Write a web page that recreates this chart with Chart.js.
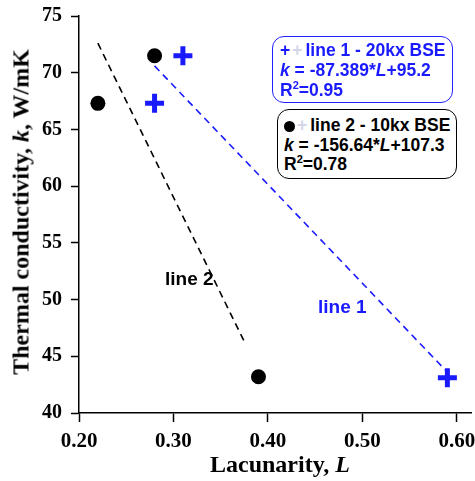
<!DOCTYPE html>
<html>
<head>
<meta charset="utf-8">
<script src="https://cdn.jsdelivr.net/npm/chart.js@4"></script>
<style>
  html, body { margin: 0; padding: 0; background: #fff; }
  #wrap { position: relative; width: 475px; height: 481px; }
  canvas { position: absolute; left: 0; top: 0; }
  .lab { position: absolute; white-space: nowrap; font-family: "Liberation Sans", Arial, sans-serif; font-weight: bold; font-size: 19px; }
  .box { position: absolute; border-radius: 12px; background: #fff; box-sizing: border-box; font-size: 17.5px; line-height: 20px; }
  .ttl { position: absolute; white-space: nowrap; font-family: "Liberation Serif", "Times New Roman", serif; font-weight: bold; font-size: 24px; color: #000; }
  sup { font-size: 11px; line-height: 0; vertical-align: 7px; }
  .ghost { color: #d3d6e8; margin: 0 3px 0 2px; }
  .dot { display: inline-block; width: 11px; height: 11px; border-radius: 50%; background: #000; vertical-align: -1px; }
</style>
</head>
<body>
<div id="wrap">
  <canvas id="chart" width="475" height="481"></canvas>

  <div class="lab box" style="left:272px;top:36px;width:181px;height:67px;border:1.5px solid #2020ff;color:#1a1aff;padding:3px 0 0 7px;">
    <div>+<span class="ghost">+</span>line 1 - 20kx BSE</div>
    <div><i>k</i> = -87.389*<i>L</i>+95.2</div>
    <div>R<sup>2</sup>=0.95</div>
  </div>
  <div class="lab box" style="left:277px;top:109px;width:180px;height:70px;border:1.5px solid #000;color:#000;padding:6px 0 0 6px;line-height:19.5px;">
    <div><span class="dot"></span><span class="ghost">+</span>line 2 - 10kx BSE</div>
    <div><i>k</i> = -156.64*<i>L</i>+107.3</div>
    <div>R<sup>2</sup>=0.78</div>
  </div>

  <div class="lab" style="left:165px;top:268px;color:#000;">line 2</div>
  <div class="lab" style="left:318px;top:296px;color:#1a1aff;">line 1</div>

  <div class="ttl" style="left:210px;top:451px;">Lacunarity, <i>L</i></div>
  <div class="ttl" style="left:21px;top:212px;transform:translate(-50%,-50%) rotate(-90deg);">Thermal conductivity, <i>k</i>, W/mK</div>
</div>

<script>
// measured points (lacunarity L, conductivity k)
const line1L = [0.28, 0.31, 0.59];
const line1K = [67.3, 71.5, 43.1];
const line2L = [0.22, 0.28, 0.39];
const line2K = [67.3, 71.5, 43.2];

// fitted trend lines, end points
const fit1L = [0.28, 0.59];
const fit1K = [70.6, 43.6];
const fit2L = [0.22, 0.375];
const fit2K = [72.6, 46.3];

// axis ticks
const xTicks = [0.20, 0.30, 0.40, 0.50, 0.60];
const yTicks = [40, 45, 50, 55, 60, 65, 70, 75];

const BLUE = '#1a1aff';
const SERIF = '"Liberation Serif", "Times New Roman", serif';
const pts = (xs, ys) => xs.map((x, i) => ({ x: x, y: ys[i] }));

function draw() {
  new Chart(document.getElementById('chart'), {
    type: 'scatter',
    data: {
      datasets: [
        {
          type: 'line',
          data: pts(fit1L, fit1K),
          borderColor: BLUE,
          borderWidth: 1.6,
          borderDash: [7, 5],
          pointRadius: 0,
          fill: false
        },
        {
          type: 'line',
          data: pts(fit2L, fit2K),
          borderColor: '#000',
          borderWidth: 1.6,
          borderDash: [7, 5],
          pointRadius: 0,
          fill: false
        },
        {
          data: pts(line1L, line1K),
          pointStyle: 'cross',
          pointRadius: 9.5,
          borderWidth: 5,
          borderColor: BLUE,
          backgroundColor: BLUE
        },
        {
          data: pts(line2L, line2K),
          pointStyle: 'circle',
          pointRadius: 7.5,
          borderWidth: 0,
          backgroundColor: '#000'
        }
      ]
    },
    options: {
      responsive: false,
      animation: false,
      clip: false,
      layout: { autoPadding: false, padding: { top: 16, right: 4, left: 0, bottom: 0 } },
      plugins: {
        legend: { display: false },
        tooltip: { enabled: false }
      },
      scales: {
        x: {
          type: 'linear',
          bounds: 'data',
          min: 0.20,
          max: 0.615,
          afterBuildTicks: (s) => { s.ticks = xTicks.map(v => ({ value: v })); },
          afterFit: (s) => { s.height = 68; s.paddingLeft = 0; s.paddingRight = 0; },
          border: { color: '#000', width: 1.5 },
          grid: { drawOnChartArea: false, drawTicks: true, tickLength: 9, color: '#000', tickWidth: 1.5 },
          ticks: {
            padding: 7,
            color: '#000',
            font: { family: SERIF, weight: 'bold', size: 21 },
            callback: (v) => Number(v).toFixed(2)
          }
        },
        y: {
          type: 'linear',
          bounds: 'data',
          min: 40,
          max: 75,
          afterBuildTicks: (s) => { s.ticks = yTicks.map(v => ({ value: v })); },
          afterFit: (s) => { s.width = 79; s.paddingTop = 0; s.paddingBottom = 0; },
          border: { color: '#000', width: 1.5 },
          grid: { drawOnChartArea: false, drawTicks: true, tickLength: 8, color: '#000', tickWidth: 1.5 },
          ticks: {
            padding: 9,
            color: '#000',
            font: { family: SERIF, weight: 'bold', size: 20 }
          }
        }
      }
    }
  });
}

document.fonts.load('bold 20px "Liberation Serif"').then(draw, draw);
</script>
</body>
</html>
